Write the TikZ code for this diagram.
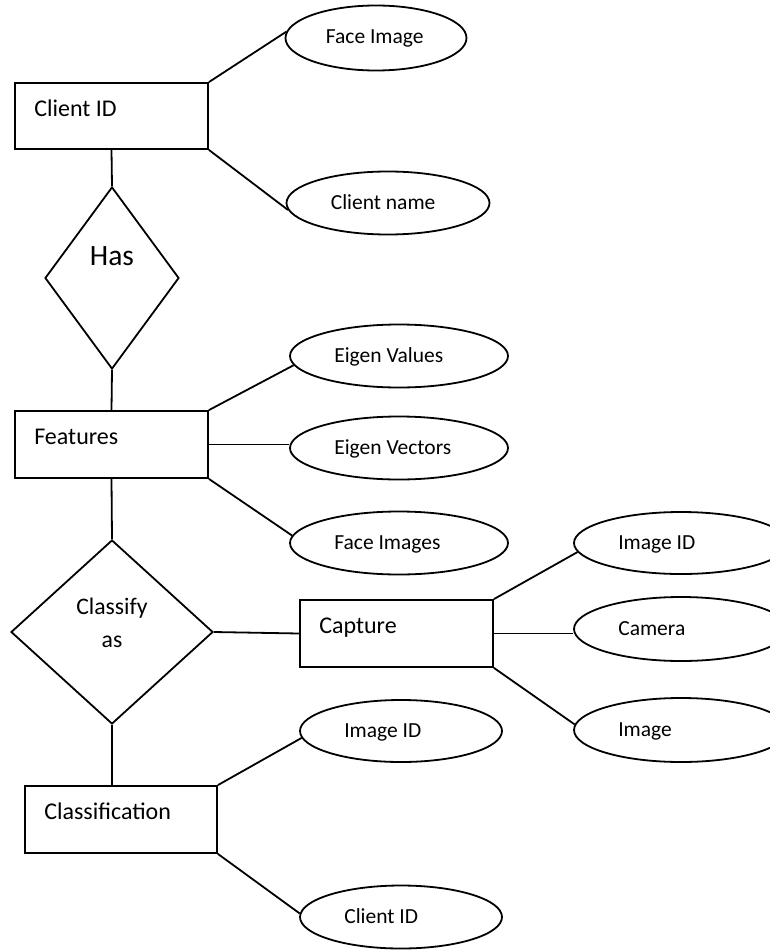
\documentclass[tikz,border=0pt]{standalone}
\usepackage{fontspec}
\setmainfont{Carlito}
\usetikzlibrary{shapes.geometric}
\begin{document}
\begin{tikzpicture}[x=1pt,y=-1pt,
  ent/.style={draw, line width=1.8pt, rectangle, minimum width=193pt, minimum height=67pt, inner sep=0pt},
  att/.style={draw, line width=1.8pt, ellipse, inner sep=0pt},
  rel/.style={draw, line width=1.8pt, diamond, inner sep=0pt},
  elbl/.style={anchor=base west, inner sep=0pt, font=\fontsize{24}{28}\selectfont, xshift=20pt},
  albl/.style={anchor=base west, inner sep=0pt, font=\fontsize{21.5}{24}\selectfont, xshift=45pt, yshift=-6pt},
  rlbl/.style={anchor=base, inner sep=0pt},
  conn/.style={line width=1.8pt},
]
\useasboundingbox (0,0) rectangle (770,950);
\clip (0,0) rectangle (770,950);

% entities
\node[ent, minimum height=66pt, label={[elbl]west:Client ID}] (cid) at (111.5,116) {};
\node[ent, label={[elbl]west:Features}] (feat) at (111.5,444.5) {};
\node[ent, label={[elbl]west:Capture}] (cap) at (396.5,633.5) {};
\node[ent, minimum width=192pt, label={[elbl]west:Classification}] (cls) at (121,819.5) {};

% relationships
\node[rel, minimum width=134pt, minimum height=182pt,
  label={[rlbl, font=\fontsize{29.5}{32}\selectfont, yshift=-79pt]north:Has}] (has) at (112,278) {};
\node[rel, minimum width=202pt, minimum height=184pt,
  label={[rlbl, font=\fontsize{23.7}{28}\selectfont, yshift=-75pt]north:Classify},
  label={[rlbl, font=\fontsize{23.7}{28}\selectfont, yshift=-108pt]north:as}] (clsd) at (112,632) {};

% attributes
\node[att, minimum width=181pt, minimum height=65pt, label={[albl, xshift=-4pt]west:Face Image}] (fimg) at (376,38) {};
\node[att, minimum width=203pt, minimum height=63pt, label={[albl]west:Client name}] (cname) at (388,203) {};
\node[att, minimum width=218pt, minimum height=63pt, label={[albl]west:Eigen Values}] (evals) at (399,356) {};
\node[att, minimum width=218pt, minimum height=63pt, label={[albl]west:Eigen Vectors}] (evecs) at (399,448) {};
\node[att, minimum width=218pt, minimum height=63pt, label={[albl]west:Face Images}] (fimgs) at (399,543) {};
\node[att, minimum width=214pt, minimum height=62pt, label={[albl]west:Image ID}] (iid) at (681,543) {};
\node[att, minimum width=214pt, minimum height=64pt, label={[albl]west:Camera}] (cam) at (681,629) {};
\node[att, minimum width=214pt, minimum height=64pt, label={[albl]west:Image}] (img) at (681,730) {};
\node[att, minimum width=202pt, minimum height=62pt, label={[albl]west:Image ID}] (iid2) at (401,731) {};
\node[att, minimum width=202pt, minimum height=63pt, label={[albl]west:Client ID}] (cid2) at (401,917) {};

% connectors
\draw[conn] (cid.north east) -- (fimg.176);
\draw[conn] (cid.south east) -- (cname.184);
\draw[conn] (cid.south) -- (has.north);
\draw[conn] (has.south) -- (feat.north);
\draw[conn] (feat.north east) -- (evals.185);
\draw[conn] (feat.east) -- (feat.east -| evecs.west);
\draw[conn] (feat.south east) -- (fimgs.176);
\draw[conn] (feat.south) -- (clsd.north);
\draw[conn] (clsd.east) -- (cap.west);
\draw[conn] (clsd.south) -- (clsd.south |- cls.north);
\draw[conn] (cap.north east) -- (iid.185);
\draw[conn] (cap.east) -- (cap.east -| cam.west);
\draw[conn] (cap.south east) -- (img.177);
\draw[conn] (cls.north east) -- (iid2.184);
\draw[conn] (cls.south east) -- (cid2.178);
\end{tikzpicture}
\end{document}
